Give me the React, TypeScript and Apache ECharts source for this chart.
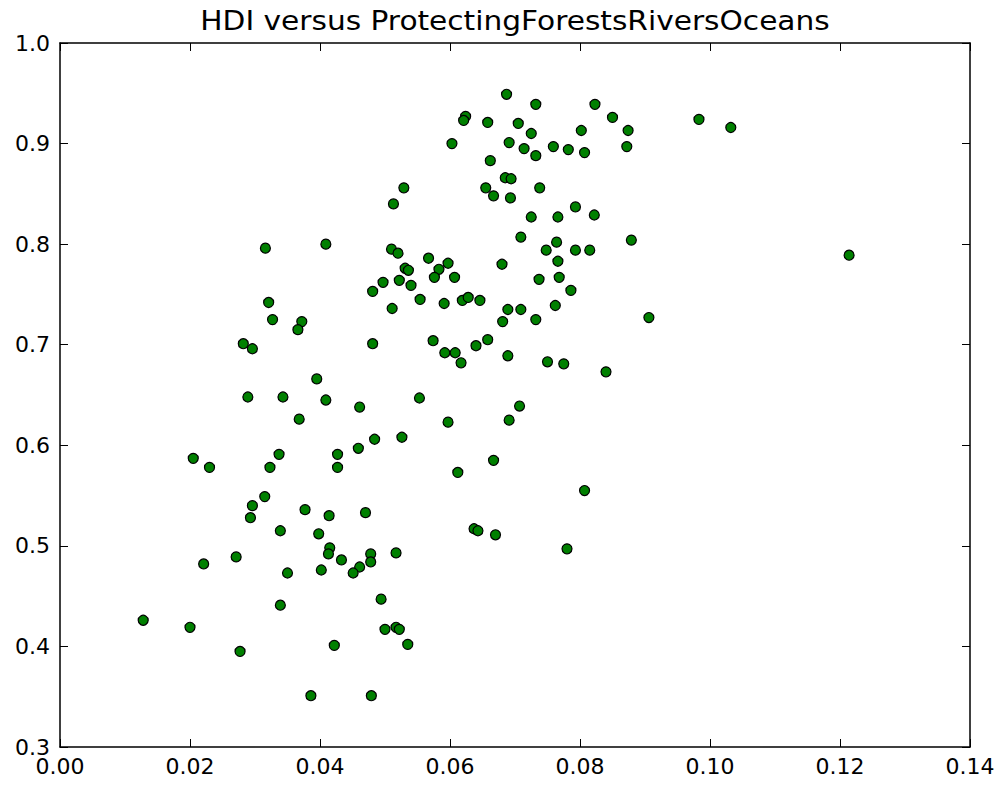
import React, { useEffect, useRef } from "react";
import * as echarts from "echarts";

const chartTitle = "HDI versus ProtectingForestsRiversOceans";

// x: ProtectingForestsRiversOceans, y: HDI
const protectingValues: number[] = [
  0.0687, 0.0732, 0.0823, 0.085, 0.0624, 0.0621, 0.0658, 0.0705, 0.0725, 0.0802,
  0.0874, 0.0603, 0.0691, 0.0714, 0.0732, 0.0759, 0.0782, 0.0807, 0.0872, 0.0662,
  0.0685, 0.0694, 0.0655, 0.0667, 0.0693, 0.0738, 0.0529, 0.0513, 0.0793, 0.0725,
  0.0766, 0.0822, 0.0709, 0.0764, 0.0748, 0.0793, 0.0815, 0.0879, 0.0409, 0.0316,
  0.051, 0.052, 0.0567, 0.0597, 0.0531, 0.0536, 0.0583, 0.068, 0.0766, 0.0497,
  0.0522, 0.054, 0.0576, 0.0607, 0.0737, 0.0768, 0.0481, 0.0786, 0.0554, 0.0591,
  0.0619, 0.0628, 0.0646, 0.0511, 0.0689, 0.0709, 0.0762, 0.0681, 0.0732, 0.0906,
  0.0983, 0.1032, 0.1214, 0.0321, 0.0327, 0.0372, 0.0366, 0.0282, 0.0296, 0.0395,
  0.0289, 0.0343, 0.0368, 0.0205, 0.023, 0.0337, 0.0323, 0.0315, 0.0296, 0.0377,
  0.0293, 0.0481, 0.0574, 0.0592, 0.0608, 0.0617, 0.064, 0.0658, 0.0409, 0.0461,
  0.0553, 0.0597, 0.0484, 0.0526, 0.0459, 0.0427, 0.0427, 0.0667, 0.0612, 0.0414,
  0.047, 0.0689, 0.075, 0.0775, 0.084, 0.0707, 0.0691, 0.0807, 0.0339, 0.0398,
  0.0221, 0.0271, 0.035, 0.0402, 0.0339, 0.0128, 0.02, 0.0277, 0.0386, 0.0637,
  0.0643, 0.067, 0.0415, 0.0413, 0.0478, 0.0478, 0.0517, 0.0433, 0.0461, 0.0451,
  0.0494, 0.05, 0.0517, 0.0522, 0.0535, 0.0422, 0.0479, 0.078
];

const hdiValues: number[] = [
  0.949, 0.939, 0.939, 0.926, 0.927, 0.923, 0.921, 0.92, 0.91, 0.913,
  0.913, 0.9, 0.901, 0.895, 0.888, 0.897, 0.894, 0.891, 0.897, 0.883,
  0.866, 0.865, 0.856, 0.848, 0.846, 0.856, 0.856, 0.84, 0.837, 0.827,
  0.827, 0.829, 0.807, 0.802, 0.794, 0.794, 0.794, 0.804, 0.8, 0.796,
  0.795, 0.791, 0.786, 0.781, 0.776, 0.774, 0.775, 0.78, 0.783, 0.762,
  0.764, 0.759, 0.767, 0.767, 0.765, 0.767, 0.753, 0.754, 0.745, 0.741,
  0.744, 0.747, 0.744, 0.736, 0.735, 0.735, 0.739, 0.723, 0.725, 0.727,
  0.924, 0.916, 0.789, 0.742, 0.725, 0.723, 0.715, 0.701, 0.696, 0.666,
  0.648, 0.648, 0.626, 0.587, 0.578, 0.591, 0.578, 0.549, 0.54, 0.536,
  0.528, 0.701, 0.704, 0.692, 0.692, 0.682, 0.699, 0.705, 0.645, 0.638,
  0.647, 0.623, 0.606, 0.608, 0.597, 0.591, 0.578, 0.585, 0.573, 0.53,
  0.533, 0.689, 0.683, 0.681, 0.673, 0.639, 0.625, 0.555, 0.515, 0.512,
  0.482, 0.489, 0.473, 0.476, 0.441, 0.426, 0.419, 0.395, 0.351, 0.517,
  0.515, 0.511, 0.498, 0.492, 0.492, 0.484, 0.493, 0.486, 0.479, 0.473,
  0.447, 0.417, 0.419, 0.417, 0.402, 0.401, 0.351, 0.497
];

const xTickMin = 0;
const xTickMax = 0.14;
const xTickStep = 0.02;
const yTickMin = 0.3;
const yTickMax = 1.0;
const yTickStep = 0.1;

const FONT = "DejaVu Sans";

export default function App() {
  const ref = useRef<HTMLDivElement>(null);

  useEffect(() => {
    if (!ref.current) return;
    const chart = echarts.init(ref.current, undefined, { renderer: "svg" });
    const n = Math.min(protectingValues.length, hdiValues.length);
    const data: number[][] = [];
    for (let i = 0; i < n; i++) data.push([protectingValues[i], hdiValues[i]]);

    const lineStyle = { color: "#000", width: 1.5 };
    const tick = { show: true, inside: true, length: 8, lineStyle: { color: "#000", width: 1 } };
    const label = { fontSize: 22, fontFamily: FONT, color: "#000" };

    chart.setOption({
      animation: false,
      backgroundColor: "#fff",
      graphic: [
        {
          type: "text",
          x: 515,
          y: 8,
          scaleX: 1.14,
          style: {
            text: chartTitle,
            fontSize: 26,
            fontFamily: FONT,
            fill: "#000",
            textAlign: "center",
            textVerticalAlign: "top",
          },
        },
      ],
      grid: { left: 60, top: 43, width: 910, height: 704, containLabel: false },
      xAxis: [
        {
          type: "value",
          position: "bottom",
          min: xTickMin,
          max: xTickMax,
          interval: xTickStep,
          axisLine: { show: true, onZero: false, lineStyle },
          axisTick: tick,
          axisLabel: { ...label, margin: 8, formatter: (v: number) => v.toFixed(2) },
          splitLine: { show: false },
        },
        {
          type: "value",
          position: "top",
          min: xTickMin,
          max: xTickMax,
          interval: xTickStep,
          axisLine: { show: true, onZero: false, lineStyle },
          axisTick: tick,
          axisLabel: { show: false },
          splitLine: { show: false },
        },
      ],
      yAxis: [
        {
          type: "value",
          position: "left",
          min: yTickMin,
          max: yTickMax,
          interval: yTickStep,
          axisLine: { show: true, onZero: false, lineStyle },
          axisTick: tick,
          axisLabel: { ...label, margin: 10, formatter: (v: number) => v.toFixed(1) },
          splitLine: { show: false },
        },
        {
          type: "value",
          position: "right",
          min: yTickMin,
          max: yTickMax,
          interval: yTickStep,
          axisLine: { show: true, onZero: false, lineStyle },
          axisTick: tick,
          axisLabel: { show: false },
          splitLine: { show: false },
        },
      ],
      series: [
        {
          type: "scatter",
          xAxisIndex: 0,
          yAxisIndex: 0,
          data,
          symbol: "circle",
          symbolSize: 10,
          itemStyle: { color: "#008000", borderColor: "#000", borderWidth: 1.2, opacity: 1 },
        },
      ],
    });
    return () => chart.dispose();
  }, []);

  return (
    <div
      ref={ref}
      style={{ position: "absolute", left: 0, top: 0, width: 1006, height: 786, background: "#fff" }}
    />
  );
}
